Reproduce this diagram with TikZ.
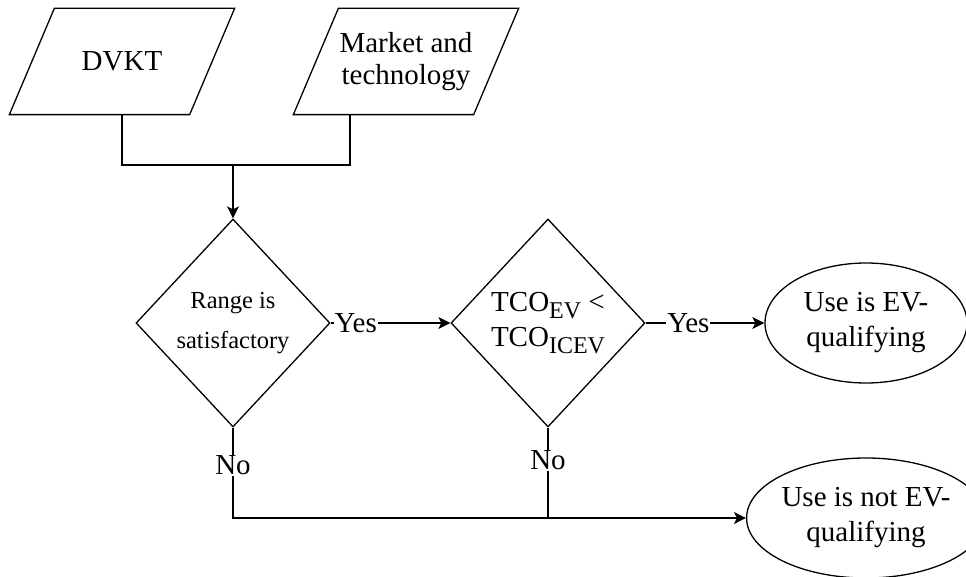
\documentclass[tikz,border=0pt]{standalone}
\usepackage{fontspec}
\setmainfont{Liberation Serif}
\usetikzlibrary{shapes.geometric,arrows.meta}
\newcommand{\sbs}[1]{\raisebox{-0.25em}{\fontsize{24}{24}\selectfont #1}}
\tikzset{
  io/.style={minimum width=224pt, minimum height=105pt, inner sep=0pt, align=center},
  decision/.style={draw, diamond, minimum width=194pt, minimum height=208pt, inner sep=0pt, align=center},
  terminal/.style={draw, ellipse, minimum width=202pt, minimum height=120pt, inner sep=0pt, align=center},
  lbl/.style={fill=white, inner sep=1pt},
  arr/.style={-{Stealth[length=12pt,width=12pt,inset=3pt]}}
}

\begin{document}
\begin{tikzpicture}[x=1pt,y=-1pt,line width=1.3pt,font=\fontsize{29}{35}\selectfont]
\useasboundingbox (0,0) rectangle (966,577);
\node[io] (dvkt) at (122,61.5) {DVKT};
\node[io,font=\fontsize{29}{32}\selectfont] (mkt) at (406,61.5) {Market and\\technology};
\foreach \n in {dvkt,mkt} { \draw ([xshift=45pt]\n.north west) -- (\n.north east) -- ([xshift=-45pt]\n.south east) -- (\n.south west) -- cycle; }
\node[decision,font=\fontsize{24.5}{40}\selectfont] (range) at (233,323) {Range is\\satisfactory};
\node[decision] (tco) at (548,323) {TCO\sbs{EV} <\\TCO\sbs{ICEV}};
\node[terminal] (evq) at (866,323) {Use is EV-\\qualifying};
\node[terminal] (notq) at (866,518) {Use is not EV-\\qualifying};
\coordinate (join) at (233,165);
\draw (dvkt.south) |- (join);
\draw ([xshift=-56pt]mkt.south) |- (join);
\draw[arr] (join) -- (range.north);
\draw[arr] (range.east) -- node[lbl,pos=0.21]{Yes} (tco.west);
\draw[arr] (tco.east) -- node[lbl,pos=0.36]{Yes} (evq.west);
\draw[arr] (range.south) |- node[lbl,pos=0.21]{No} (notq.west);
\draw (tco.south) -- node[lbl,pos=0.36]{No} (tco.south |- notq.west);
\end{tikzpicture}
\end{document}
